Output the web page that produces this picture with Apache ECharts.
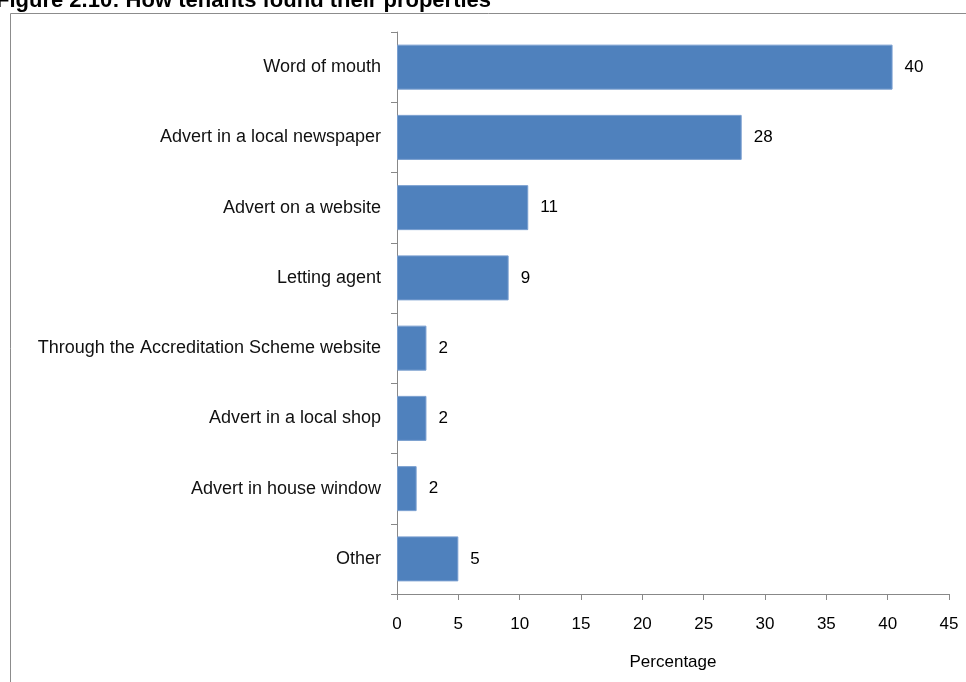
<!DOCTYPE html>
<html>
<head>
<meta charset="utf-8">
<script src="https://cdn.jsdelivr.net/npm/echarts@6/dist/echarts.min.js"></script>
<style>html,body{margin:0;padding:0;background:#fff}#c{width:966px;height:682px}</style>
</head>
<body>
<div id="c"></div>
<script>
const categories = ["Word of mouth", "Advert in a local newspaper", "Advert on a website", "Letting agent", "Through the Accreditation Scheme website", "Advert in a local shop", "Advert in house window", "Other"];
const values = [40.4, 28.1, 10.7, 9.1, 2.4, 2.4, 1.6, 5.0];
const xTicks = [0, 5, 10, 15, 20, 25, 30, 35, 40, 45];
const titleText = "Figure 2.10: How tenants found their properties";
const axisName = "Percentage";

const chart = echarts.init(document.getElementById('c'));
const font = 'Liberation Sans, Arial, sans-serif';
chart.setOption({
  animation: false,
  textStyle: { fontFamily: font },
  graphic: [
    { type: 'rect', shape: { x: 10.5, y: 13.5, width: 1200, height: 1000 }, style: { fill: 'none', stroke: '#8c8c8c', lineWidth: 1 }, silent: true },
    { type: 'text', x: -4, y: 12, style: { text: titleText, font: 'bold 22px ' + font, fill: '#000', verticalAlign: 'bottom' } }
  ],
  grid: { left: 397, top: 32, right: 17, bottom: 88, containLabel: false },
  xAxis: {
    type: 'value', min: xTicks[0], max: xTicks[xTicks.length - 1], interval: 5,
    name: axisName, nameLocation: 'middle', nameGap: 60,
    nameTextStyle: { fontSize: 17, color: '#000', fontFamily: font },
    axisLine: { show: true, lineStyle: { color: '#888' } },
    axisTick: { show: true, length: 6, lineStyle: { color: '#888' } },
    axisLabel: { fontSize: 17, color: '#000', margin: 22, fontFamily: font },
    splitLine: { show: false }
  },
  yAxis: {
    type: 'category', data: categories, inverse: true,
    axisLine: { show: true, lineStyle: { color: '#888' } },
    axisTick: { show: true, length: 6, lineStyle: { color: '#888' } },
    axisLabel: { fontSize: 18, color: '#111', margin: 16, fontFamily: font }
  },
  series: [{
    type: 'bar', data: values, barWidth: 45,
    itemStyle: { color: '#4f81bd', borderColor: '#7a9fd0', borderWidth: 1 },
    label: { show: true, position: 'right', distance: 12, fontSize: 17, color: '#000', fontFamily: font,
      formatter: p => String(Math.round(p.value)) }
  }]
});
</script>
</body>
</html>
